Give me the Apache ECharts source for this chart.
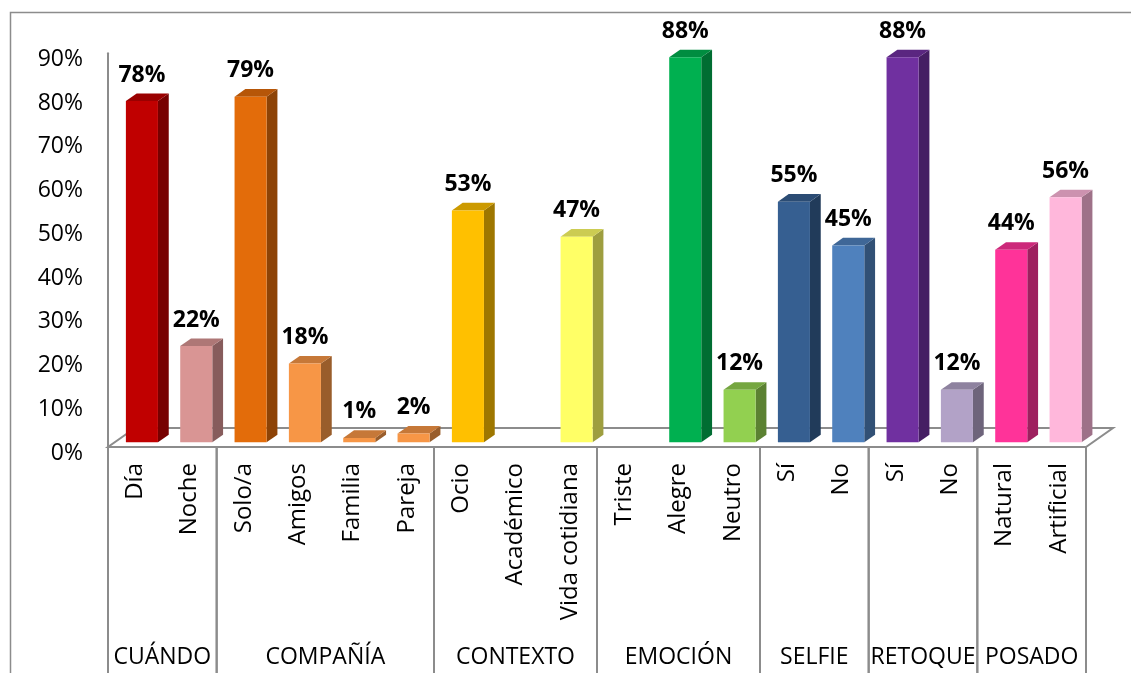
<!DOCTYPE html>
<html>
<head>
<meta charset="utf-8">
<script src="https://cdn.jsdelivr.net/npm/echarts@6/dist/echarts.min.js"></script>
<style>
html,body{margin:0;padding:0;background:#fff;}
#chart{width:1131px;height:673px;}
</style>
</head>
<body>
<div id="chart"></div>
<script>
const categories = ['Día','Noche','Solo/a','Amigos','Familia','Pareja','Ocio','Académico','Vida cotidiana','Triste','Alegre','Neutro','Sí','No','Sí','No','Natural','Artificial'];
const values = [78,22,79,18,1,2,53,null,47,null,88,12,55,45,88,12,44,56];
const barColors = ['#C00000','#D99594','#E36C0A','#F79646','#F79646','#F79646','#FFC000','#FFC000','#FFFF66','#00B050','#00B050','#92D050','#365F91','#4F81BD','#7030A0','#B2A2C7','#FF3399','#FFB7DB'];
const groupNames = ['CUÁNDO','COMPAÑÍA','CONTEXTO','EMOCIÓN','SELFIE','RETOQUE','POSADO'];
const groupSizes = [2,4,3,3,2,2,2];
const yMin = 0, yMax = 90, yStep = 10;

const FONT = '"Open Sans", "Liberation Sans", sans-serif';
const DEPTH = [27, -19];
const D0 = 0.25, D1 = 0.65;
const GREY = '#8c8c8c';

function shade(hex, f){
  const n = parseInt(hex.slice(1),16);
  const r = Math.round(((n>>16)&255)*f), g = Math.round(((n>>8)&255)*f), b = Math.round((n&255)*f);
  return 'rgb('+r+','+g+','+b+')';
}

const groupData = [];
let start = 0;
groupSizes.forEach((s,i)=>{ groupData.push({value:[start, 0, s], name: groupNames[i]}); start += s; });

const chart = echarts.init(document.getElementById('chart'));
chart.setOption({
  animation:false,
  backgroundColor:'#fff',
  graphic:[{type:'rect', left:8, top:10, shape:{x:0,y:0,width:1300,height:800}, style:{fill:'none', stroke:GREY, lineWidth:1.5}, z:-10, silent:true}],
  grid:{left:108, right:45, top:53.25, bottom:226},
  xAxis:{
    type:'category', data:categories,
    axisLine:{show:true, lineStyle:{color:GREY, width:2}},
    axisTick:{show:false},
    axisLabel:{rotate:90, interval:0, margin:16, fontFamily:FONT, fontSize:24, color:'#000'},
    splitLine:{show:false}
  },
  yAxis:{
    type:'value', min:yMin, max:yMax, interval:yStep,
    axisLine:{show:true, lineStyle:{color:GREY, width:2}},
    axisTick:{show:false},
    splitLine:{show:false},
    axisLabel:{formatter:'{value}%', margin:25, fontFamily:FONT, fontSize:23, color:'#000', verticalAlign:'top', lineHeight:12}
  },
  series:[
    {
      type:'custom', z:1, silent:true,
      data:[[0,0]],
      encode:{x:0,y:1},
      renderItem:function(params, api){
        const cs = params.coordSys;
        const x0 = cs.x, x1 = cs.x + cs.width, yb = cs.y + cs.height;
        return {type:'polygon', shape:{points:[[x0,yb],[x1,yb],[x1+DEPTH[0],yb+DEPTH[1]],[x0+DEPTH[0],yb+DEPTH[1]]]},
          style:{fill:'#fff', stroke:GREY, lineWidth:2}};
      }
    },
    {
      type:'custom', z:3, silent:true,
      data:values.map((v,i)=>[i, v==null?'-':v]),
      encode:{x:0,y:1},
      renderItem:function(params, api){
        const v = api.value(1);
        if (v == null || isNaN(v)) return null;
        const i = params.dataIndex;
        const base = api.coord([i, 0]);
        const top = api.coord([i, v]);
        const band = api.size([1,0])[0];
        const w = band*0.59;
        const ox = DEPTH[0]*D0, oy = DEPTH[1]*D0;
        const sx = DEPTH[0]*(D1-D0), sy = DEPTH[1]*(D1-D0);
        const x = base[0] - w/2 + ox;
        const yt = top[1] + oy, yb = base[1] + oy;
        const c = barColors[i];
        return {type:'group', children:[
          {type:'polygon', shape:{points:[[x+w,yt],[x+w+sx,yt+sy],[x+w+sx,yb+sy],[x+w,yb]]}, style:{fill:shade(c,0.62)}},
          {type:'polygon', shape:{points:[[x,yt],[x+sx,yt+sy],[x+w+sx,yt+sy],[x+w,yt]]}, style:{fill:shade(c,0.8)}},
          {type:'rect', shape:{x:x, y:yt, width:w, height:yb-yt}, style:{fill:c}},
          {type:'text', x:x+w/2, y:yt-26, style:{text:v+'%', fontFamily:FONT, fontSize:23, fontWeight:'bold', fill:'#000', align:'center', verticalAlign:'middle'}}
        ]};
      }
    },
    {
      type:'custom', z:2, silent:true,
      data:groupData,
      encode:{x:0,y:1},
      renderItem:function(params, api){
        const s = api.value(0), n = api.value(2);
        const band = api.size([1,0])[0];
        const c = api.coord([s, 0]);
        const left = c[0] - band/2, right = left + n*band;
        const y0 = c[1];
        return {type:'group', children:[
          {type:'line', shape:{x1:left,y1:y0,x2:left,y2:y0+240}, style:{stroke:GREY, lineWidth:2}},
          {type:'line', shape:{x1:right,y1:y0,x2:right,y2:y0+240}, style:{stroke:GREY, lineWidth:2}},
          {type:'text', x:(left+right)/2, y:y0+210, style:{text:groupNames[params.dataIndex], fontFamily:FONT, fontSize:23, fill:'#000', align:'center', verticalAlign:'middle'}}
        ]};
      }
    }
  ]
});
</script>
</body>
</html>
